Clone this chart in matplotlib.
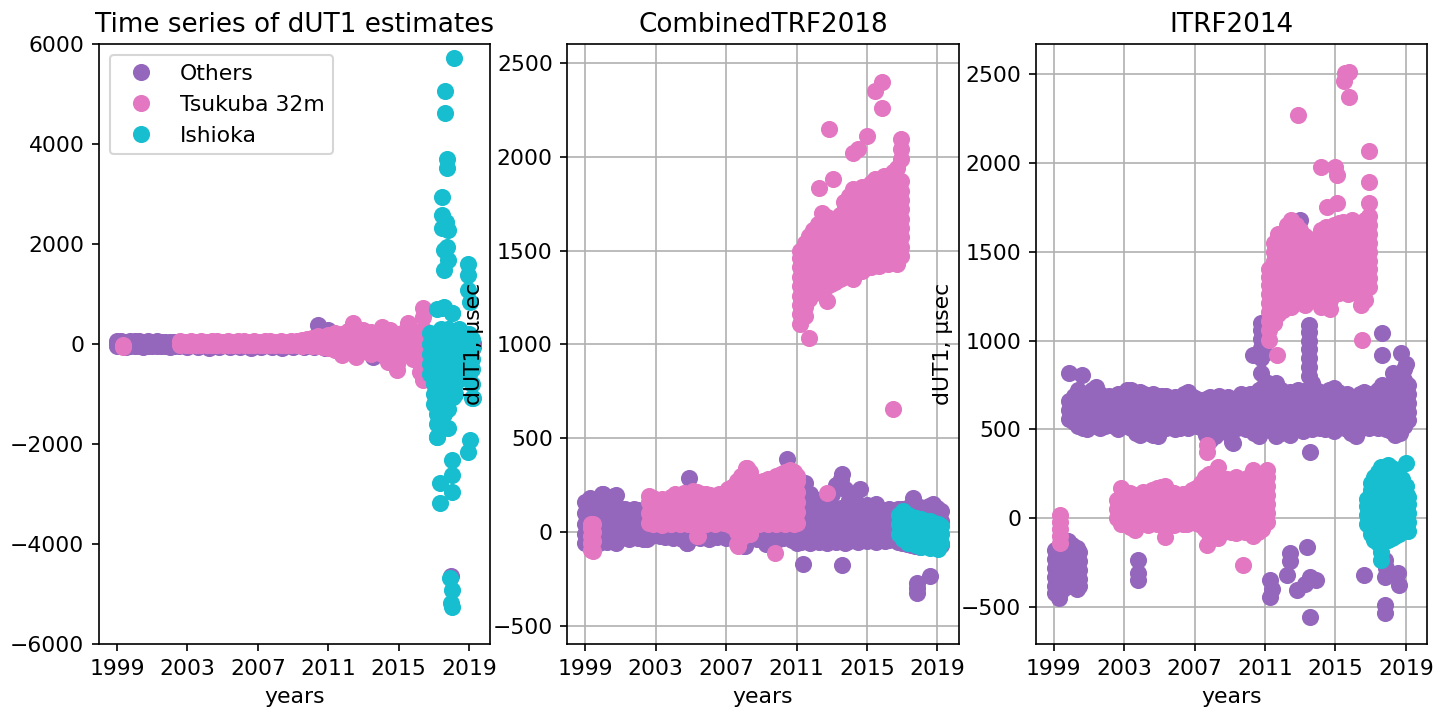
import matplotlib
matplotlib.use("Agg")
import matplotlib.pyplot as plt

# ---------------------------------------------------------------- data
# dense session groups: (epoch in years, [dUT1 values in usec])
# isolated sessions: list of (epoch, value)

# left panel: raw time series
RAW_OTHERS_COLS = [
    (1999.0, [-50, 0, 50]), (1999.25, [-40, 10, 60]), (1999.5, [-60, -10, 40]),
    (1999.75, [-45, 5, 55]), (2000.0, [-50, 0, 60]), (2000.25, [-40, 10, 50]),
    (2000.5, [-55, -5, 45]), (2000.75, [-45, 5, 55]), (2001.0, [-50, 0, 40]),
    (2001.25, [-40, 10, 50]), (2001.5, [-50, 0, 30]), (2001.75, [-45, 5, 45]),
    (2002.0, [-55, -5, 40]), (2002.25, [-40, 10, 45]), (2002.5, [-50, 0, 35]),
    (2003.0, [-70, 0]), (2003.6, [-65, -5]), (2004.2, [-75, 0]), (2004.8, [-60, 5]),
    (2005.4, [-70, -10]), (2006.0, [-65, 0]), (2006.6, [-75, -5]), (2007.2, [-60, 0]),
    (2007.8, [-70, 5]), (2008.4, [-80, -10]), (2009.0, [-65, 0]), (2009.6, [-70, -5]),
    (2010.2, [-60, 10]), (2010.8, [-75, 0]), (2011.4, [-60, 30]), (2012.0, [-70, 20]),
    (2012.6, [-60, 30]), (2013.2, [-80, 10]), (2014.0, [-70, 20]), (2014.8, [-60, 30]),
    (2015.6, [-70, 20]), (2016.4, [-60, 30]), (2017.2, [-60, 30]), (2018.0, [-70, 20]),
    (2018.8, [-60, 30]), (2019.2, [-70, 20]),
]
RAW_OTHERS_EXTRA = [(2010.4, 380), (2011.0, 280), (2013.55, -260), (2017.95, -4650)]

RAW_TSUKUBA_COLS = [
    (1999.35, [-70, -20]),
    (2002.6, [-20, 50]), (2002.9, [-30, 40]), (2003.2, [-20, 60]), (2003.5, [-25, 45]),
    (2003.8, [-15, 55]), (2004.1, [-30, 40]), (2004.4, [-20, 50]), (2004.7, [-25, 60]),
    (2005.0, [-15, 45]), (2005.3, [-30, 55]), (2005.6, [-20, 40]), (2005.9, [-25, 50]),
    (2006.2, [-15, 60]), (2006.5, [-30, 45]), (2006.8, [-20, 55]), (2007.1, [-25, 40]),
    (2007.4, [-15, 50]), (2007.7, [-30, 60]), (2008.0, [-20, 45]), (2008.3, [-25, 55]),
    (2008.6, [-15, 40]), (2008.9, [-30, 50]), (2009.2, [-20, 60]), (2009.5, [-40, 70]),
    (2009.8, [-30, 90]), (2010.1, [-50, 60, 120]), (2010.4, [-40, 80, 150]),
    (2010.7, [-60, 50, 130]), (2011.0, [-80, 0, 100, 180]), (2011.4, [-120, 0, 100, 220]),
    (2011.8, [-220, -100, 0, 100, 200]), (2012.1, [-150, -50, 50, 150, 250]),
    (2012.4, [-180, -60, 60, 180, 300, 420]), (2012.6, [-260, -120, 0, 120, 240]),
    (2013.0, [-150, -40, 80, 180, 280]), (2013.4, [-200, -80, 40, 160, 240]),
    (2013.7, [-120, 0, 120, 200]), (2014.06, [-200, -80, 40, 160, 340]),
    (2014.4, [-360, -220, -100, 20, 140, 260]), (2014.5, [-150, 0, 150, 280]),
    (2014.9, [-520, -400, -250, -100, 50, 200]), (2015.2, [-200, -60, 80, 220]),
    (2015.5, [-150, 0, 150, 280, 420]), (2015.8, [-300, -150, 0, 120, 200]),
    (2016.2, [-560, -400, -250, -100, 50, 220]), (2016.4, [-720, -600, 300, 540, 720]),
]
RAW_TSUKUBA_EXTRA = []

RAW_ISHIOKA_COLS = [
    (2016.8, [-600, -400, -200, 0, 220]),
    (2017.0, [-1200, -1000, -800, -600, -400, -200, 0, 200]),
    (2017.2, [-1860, -1600, -1400, -1200, -1000, -800, -600, -400, -200, 0, 150, 700]),
    (2017.4, [-1700, -1500, -1300, -1100, -900, -700, -500, -300, -100, 100, 300]),
    (2017.6, [-1400, -1200, -1000, -800, -600, -400, -200, 0, 200, 740]),
    (2017.8, [-1680, -1300, -1100, -900, -700, -500, -300, -100, 100, 300]),
    (2018.0, [-1060, -850, -650, -450, -250, -50, 150, 620]),
    (2018.2, [-1000, -800, -600, -400, -200, 0, 200]),
    (2018.4, [-700, -500, -300, -100, 100, 300]),
    (2018.6, [-600, -400, -200, 0, 200]),
    (2018.8, [-500, -300, -100, 100]),
    (2019.0, [-600, -400, -200, 0, 200]),
    (2019.15, [-1080, -800, -500, -300, -100, 100]),
]
RAW_ISHIOKA_EXTRA = [
    (2018.15, 5720), (2017.64, 5060), (2017.64, 4620), (2017.75, 3700), (2017.75, 3520),
    (2017.47, 2940), (2017.47, 2580), (2017.7, 2440), (2017.47, 2320), (2017.8, 2280),
    (2017.75, 1940), (2017.55, 1880), (2017.8, 1680), (2017.6, 1480), (2018.94, 1600),
    (2018.94, 1380), (2018.94, 1080), (2019.05, 840), (2017.47, 720), (2018.0, 620),
    (2017.2, -1860), (2017.35, -2780), (2017.35, -3180), (2018.0, -2320),
    (2018.0, -2620), (2018.0, -2960), (2017.9, -4680), (2018.0, -4920),
    (2017.95, -5180), (2018.0, -5260), (2019.05, -1920), (2018.94, -2160),
    (2018.1, -1060), (2019.2, -1080),
]

# middle panel: CombinedTRF2018
CTRF_OTHERS_COLS = [
    (1999.0, [-60, -10, 40, 100, 160]), (1999.25, [-70, -20, 30, 90, 180]),
    (1999.5, [-50, 0, 60, 120, 170]), (1999.75, [-60, -10, 40, 110, 150]),
    (2000.0, [-40, 10, 70, 130, 200]), (2000.25, [-55, -5, 50, 110, 160]),
    (2000.5, [-45, 15, 75, 130, 170]), (2000.75, [-60, -10, 40, 100, 195]),
    (2001.0, [-30, 20, 70, 120]), (2001.25, [-25, 25, 80, 125]),
    (2001.5, [-35, 10, 60, 110]), (2001.75, [-20, 30, 80, 120]),
    (2002.0, [-30, 15, 65, 115]), (2002.25, [-40, 0, 50, 100]),
    (2002.5, [-35, 10, 60]), (2002.75, [-20, 30]),
    (2003.0, [-10, 30]), (2003.25, [-20, 20]), (2003.5, [-25, 15]), (2003.75, [-5, 35]),
    (2004.0, [-30, 10]), (2004.25, [-15, 25]), (2004.5, [-35, 5]), (2004.75, [-60, 0]),
    (2005.0, [-20, 20]), (2005.25, [-10, 30]), (2005.5, [-30, 10]), (2005.75, [-15, 25]),
    (2006.0, [-35, 5]), (2006.25, [-20, 20]), (2006.5, [-25, 15]), (2006.75, [-10, 30]),
    (2007.0, [-30, 10]), (2007.25, [-15, 25]), (2007.5, [-35, 5]), (2007.75, [-20, 20]),
    (2008.0, [-75, -10]), (2008.25, [-30, 15]), (2008.5, [-20, 20]), (2008.75, [-35, 10]),
    (2009.0, [-25, 15]), (2009.25, [-65, 0]), (2009.5, [-30, 20]), (2009.75, [-20, 25]),
    (2010.0, [-40, 10]), (2010.25, [-30, 20]), (2010.5, [-25, 15]), (2010.75, [-45, 5]),
    (2011.0, [-60, -10, 40, 100, 160]), (2011.25, [-55, 0, 60, 120, 180]),
    (2011.5, [-50, 10, 70, 130, 260]), (2011.75, [-60, -5, 55, 115, 205]),
    (2012.0, [-45, 15, 75, 135, 175]), (2012.25, [-55, 0, 60, 120, 150]),
    (2012.5, [-50, 10, 70, 130, 170]), (2012.75, [-60, -5, 50, 110, 160]),
    (2013.0, [-45, 15, 75, 140, 200]), (2013.25, [-55, 0, 60, 120, 250]),
    (2013.5, [-40, 10, 70, 130, 280]), (2013.75, [-60, -5, 55, 115, 230]),
    (2014.0, [-50, 10, 70, 130, 170]), (2014.25, [-45, 0, 60, 120, 160]),
    (2014.5, [-55, 5, 65, 125, 150]), (2014.75, [-40, 15, 75, 135]),
    (2015.0, [-50, 0, 60, 120, 145]), (2015.25, [-45, 10, 70, 130]),
    (2015.5, [-55, -5, 55, 115, 150]), (2015.75, [-40, 15, 75, 125]),
    (2016.0, [-50, 0, 60, 110]), (2016.25, [-45, 5, 65, 120]),
    (2016.5, [-40, 10, 70, 115]), (2016.75, [-55, 0, 60, 120]),
    (2017.0, [-60, 70, 125]), (2017.25, [-65, 80, 130]), (2017.5, [-70, 75, 140]),
    (2017.75, [-75, 85, 120]), (2018.0, [-80, 70, 135]), (2018.25, [-70, 80, 125]),
    (2018.5, [-75, 90, 140]), (2018.75, [-70, 85, 150]), (2019.0, [-65, 75, 130]),
    (2019.2, [-70, 60, 110]),
]
CTRF_OTHERS_EXTRA = [
    (2004.9, 288), (2010.44, 389), (2010.6, 330), (1999.97, 200), (2000.65, 192),
    (2011.35, -170), (2013.57, -176), (2013.57, 309), (2014.6, 229), (2017.6, 181),
    (2017.84, -272), (2017.84, -300), (2017.84, -325), (2018.6, -235),
    (2008.05, -75), (2004.75, -60),
]

CTRF_TSUKUBA_COLS = [
    (1999.3, [-95, -60, -20, 20, 45]), (1999.45, [-100, -50, 0, 40]),
    (2002.6, [50, 100, 160, 190]), (2002.85, [40, 90, 140, 180]),
    (2003.1, [55, 105, 150]), (2003.35, [35, 85, 135, 175]),
    (2003.6, [50, 100, 150, 165]), (2003.85, [45, 95, 145, 185]),
    (2004.1, [55, 105, 155, 200]), (2004.35, [40, 90, 140, 190]),
    (2004.6, [50, 100, 150, 210]), (2004.85, [45, 95, 145, 195]),
    (2005.1, [55, 105, 160, 220]), (2005.35, [-20, 60, 110, 165, 215]),
    (2005.6, [50, 100, 150, 205]), (2005.85, [45, 95, 145, 200]),
    (2006.1, [55, 105, 155, 195]), (2006.35, [40, 90, 140, 185]),
    (2006.6, [60, 110, 160, 200]), (2006.85, [50, 100, 150, 210]),
    (2007.1, [45, 95, 145, 195, 230]), (2007.35, [30, 80, 130, 180, 240]),
    (2007.6, [-65, 0, 60, 110, 165, 220, 270]), (2007.85, [-30, 20, 75, 130, 185, 240, 300]),
    (2008.1, [10, 65, 120, 175, 230, 290, 340]), (2008.35, [-10, 45, 100, 155, 210, 265, 320]),
    (2008.6, [40, 95, 150, 205, 255]), (2008.85, [45, 100, 155, 210, 265]),
    (2009.1, [50, 105, 160, 215, 270]), (2009.35, [40, 95, 150, 205, 260, 285]),
    (2009.6, [55, 110, 165, 220, 275]), (2009.85, [45, 100, 155, 210, 270, 300]),
    (2010.1, [50, 105, 160, 215, 275, 310]), (2010.35, [40, 95, 150, 205, 260, 320]),
    (2010.6, [55, 110, 165, 220, 280, 330]), (2010.85, [45, 100, 155, 210, 265, 320]),
    (2011.05, [50, 105, 160, 215, 270, 300]),
    (2011.2, [1110, 1160, 1210, 1260, 1310, 1360, 1410, 1460, 1500]),
    (2011.45, [1150, 1200, 1250, 1300, 1350, 1400, 1450, 1500, 1540]),
    (2011.7, [1034, 1240, 1290, 1340, 1390, 1440, 1490, 1540, 1580]),
    (2011.95, [1270, 1320, 1370, 1420, 1470, 1520, 1570, 1610]),
    (2012.2, [1290, 1340, 1390, 1440, 1490, 1540, 1590, 1640]),
    (2012.45, [1300, 1350, 1400, 1450, 1500, 1550, 1600, 1660, 1700]),
    (2012.7, [1231, 1310, 1360, 1410, 1460, 1510, 1560, 1610, 1680]),
    (2012.95, [1320, 1370, 1420, 1470, 1520, 1570, 1620, 1660]),
    (2013.2, [1330, 1380, 1430, 1480, 1530, 1580, 1630, 1670]),
    (2013.45, [1348, 1390, 1440, 1490, 1540, 1590, 1640, 1690]),
    (2013.7, [1360, 1410, 1460, 1510, 1560, 1610, 1660, 1710, 1760]),
    (2013.95, [1370, 1420, 1470, 1520, 1570, 1620, 1670, 1720, 1790]),
    (2014.2, [1380, 1430, 1480, 1530, 1580, 1630, 1680, 1730, 1780, 1830]),
    (2014.45, [1400, 1450, 1500, 1550, 1600, 1650, 1700, 1750, 1800]),
    (2014.7, [1390, 1440, 1490, 1540, 1590, 1640, 1690, 1740, 1790, 1840]),
    (2014.95, [1420, 1470, 1520, 1570, 1620, 1670, 1720, 1770, 1820]),
    (2015.2, [1410, 1460, 1510, 1560, 1610, 1660, 1710, 1760, 1810, 1860]),
    (2015.45, [1430, 1480, 1530, 1580, 1630, 1680, 1730, 1780, 1830, 1880]),
    (2015.7, [1420, 1470, 1520, 1570, 1620, 1670, 1720, 1770, 1820, 1870]),
    (2015.95, [1440, 1490, 1540, 1590, 1640, 1690, 1740, 1790, 1840, 1900]),
    (2016.2, [1428, 1480, 1530, 1580, 1630, 1680, 1730, 1780, 1830, 1890]),
    (2016.45, [1450, 1500, 1550, 1600, 1650, 1700, 1750, 1800, 1850, 1920]),
    (2016.7, [1430, 1480, 1530, 1580, 1630, 1680, 1730, 1780, 1830, 1880, 1940]),
    (2016.95, [1470, 1520, 1570, 1620, 1670, 1720, 1770, 1820, 1870, 1990, 2040, 2095]),
]
CTRF_TSUKUBA_EXTRA = [
    (2002.8, 181), (2005.4, -21), (2007.65, -75), (2009.76, -112), (2008.2, 341),
    (2012.7, 208), (2016.47, 656), (2012.83, 2148), (2012.3, 1834), (2013.05, 1881),
    (2014.2, 2020), (2014.5, 2041), (2015.0, 2110), (2015.45, 2350), (2015.85, 2399),
    (2015.85, 2260), (2014.2, 1348),
]

CTRF_ISHIOKA_COLS = [
    (2016.8, [-10, 40, 90]), (2017.05, [-40, 10, 60, 112]), (2017.3, [-60, -10, 40, 90]),
    (2017.55, [-50, 0, 50, 80]), (2017.8, [-70, -20, 30, 75]), (2018.05, [-80, -30, 20, 70]),
    (2018.3, [-75, -25, 25, 60]), (2018.55, [-85, -35, 15, 60]), (2018.8, [-70, -20, 30, 50]),
    (2019.05, [-90, -40, 10, 40]), (2019.2, [-60, -10, 30]),
]
CTRF_ISHIOKA_EXTRA = []

# right panel: ITRF2014
ITRF_OTHERS_COLS = [
    (1999.05, [-180, -230, -280, -330, -380, -420]), (1999.3, [-220, -270, -320, -370, -420, -450]),
    (1999.55, [-150, -200, -250, -300, -350, -400]), (1999.8, [-130, -180, -230, -280, -330, -380]),
    (2000.05, [-150, -200, -250, -300, -350]), (2000.3, [-170, -220, -270, -320, -370, -400]),
    (2000.45, [-190, -240, -290, -340, -380]),
    (1999.9, [560, 610, 660]), (2000.15, [540, 590, 640, 690]),
    (2000.4, [520, 570, 620, 670, 720]), (2000.65, [510, 560, 610, 660, 700]),
    (2000.9, [500, 550, 600, 650, 700]), (2001.15, [520, 570, 620, 670, 720]),
    (2001.4, [530, 580, 630, 680, 738]), (2001.65, [510, 560, 610, 660, 700]),
    (2001.9, [520, 570, 620, 670]), (2002.15, [540, 590, 640, 690]),
    (2002.4, [520, 570, 620, 670]), (2002.65, [500, 550, 600, 650, 700]),
    (2002.9, [530, 580, 630, 680]), (2003.15, [520, 570, 620, 670, 720]),
    (2003.4, [510, 560, 610, 660, 720]), (2003.65, [480, 530, 580, 630, 680]),
    (2003.9, [467, 520, 570, 620, 670, 710]), (2004.15, [500, 550, 600, 650, 700]),
    (2004.4, [480, 530, 580, 630, 680]), (2004.65, [470, 520, 570, 620, 670, 700]),
    (2004.9, [460, 510, 560, 610, 660, 690]), (2005.15, [500, 550, 600, 650, 690]),
    (2005.4, [510, 560, 610, 660, 690]), (2005.65, [520, 570, 620, 670]),
    (2005.9, [500, 550, 600, 650, 680]), (2006.15, [510, 560, 610, 660]),
    (2006.4, [520, 570, 620, 670, 700]), (2006.65, [510, 560, 610, 660, 710]),
    (2006.9, [530, 580, 630, 680]), (2007.15, [520, 570, 620, 670]),
    (2007.4, [510, 560, 610, 660]), (2007.65, [470, 520, 570, 620, 670]),
    (2007.9, [440, 490, 540, 590, 640, 680]), (2008.15, [460, 510, 560, 610, 660]),
    (2008.4, [500, 550, 600, 650, 690]), (2008.65, [520, 570, 620, 670]),
    (2008.9, [480, 530, 580, 630, 680]), (2009.15, [430, 500, 550, 600, 650]),
    (2009.4, [510, 560, 610, 660]), (2009.65, [520, 570, 620, 670, 700]),
    (2009.9, [500, 550, 600, 650, 690]), (2010.15, [510, 560, 610, 660, 700]),
    (2010.4, [480, 530, 580, 630, 680]), (2010.65, [460, 520, 570, 620, 670, 720]),
    (2010.9, [500, 550, 600, 650, 700, 740]), (2011.15, [520, 570, 620, 670, 720, 760]),
    (2011.4, [490, 540, 590, 640, 690, 740]), (2011.65, [460, 510, 560, 610, 660, 710, 760]),
    (2011.9, [480, 530, 580, 630, 680, 720]), (2012.15, [500, 550, 600, 650, 700]),
    (2012.4, [470, 520, 570, 620, 670, 710]), (2012.65, [500, 550, 600, 650, 700]),
    (2012.9, [520, 570, 620, 670, 720]), (2013.15, [490, 540, 590, 640, 690]),
    (2013.4, [510, 560, 610, 660, 720]), (2013.65, [500, 550, 600, 650, 700, 760]),
    (2013.9, [520, 570, 620, 670, 720]), (2014.15, [510, 560, 610, 660, 710]),
    (2014.4, [500, 550, 600, 650, 700]), (2014.65, [520, 570, 620, 670, 720]),
    (2014.9, [490, 540, 590, 640, 690, 730]), (2015.15, [510, 560, 610, 660, 710]),
    (2015.4, [530, 580, 630, 680]), (2015.65, [500, 550, 600, 650, 700]),
    (2015.9, [480, 530, 580, 630, 680]), (2016.15, [460, 510, 560, 610, 660]),
    (2016.4, [500, 550, 600, 650, 700]), (2016.65, [520, 570, 620, 670, 710]),
    (2016.9, [510, 560, 610, 660, 700]), (2017.15, [530, 580, 630, 680]),
    (2017.4, [510, 560, 610, 660, 720]), (2017.65, [520, 570, 620, 670, 720, 750]),
    (2017.9, [500, 550, 600, 650, 700]), (2018.15, [490, 540, 590, 640, 690, 730]),
    (2018.4, [470, 520, 570, 620, 670, 720]), (2018.65, [480, 530, 580, 630, 680, 740]),
    (2018.9, [520, 570, 620, 670, 720, 780, 840]), (2019.1, [550, 600, 650, 700, 750]),
    (2010.75, [816, 900, 960, 1010, 1060, 1100]), (2013.5, [800, 850, 900, 950, 1000, 1050, 1090]),
]
ITRF_OTHERS_EXTRA = [
    (1999.9, 816), (2000.6, 805), (2003.77, -236), (2003.77, -310), (2003.77, -349),
    (2010.3, 918), (2011.0, 930), (2013.55, 372), (2009.2, 422), (2013.0, 1678),
    (2017.65, 1040), (2017.65, 918), (2018.7, 930), (2019.0, 870), (2018.3, 816),
    (2011.3, -349), (2011.3, -444), (2011.4, -400), (2012.25, -321), (2012.4, -197),
    (2012.4, -240), (2012.8, -405), (2013.4, -163), (2013.3, -370), (2013.55, -332),
    (2013.9, -349), (2013.55, -557), (2016.6, -321), (2017.8, -236), (2017.8, -332),
    (2018.55, -310), (2018.6, -377), (2017.8, -490), (2017.8, -535), (2017.9, -280),
]

ITRF_TSUKUBA_COLS = [
    (1999.35, [20, -20, -60, -100, -140]),
    (2002.6, [0, 50, 100]), (2002.85, [-30, 20, 70, 120, 169]),
    (2003.1, [-20, 30, 80, 130]), (2003.35, [-50, 0, 50, 100, 140]),
    (2003.6, [-68, -15, 35, 85, 130]), (2003.85, [-30, 20, 70, 120]),
    (2004.1, [-20, 30, 80, 130, 150]), (2004.35, [-40, 10, 60, 110, 140]),
    (2004.6, [-25, 25, 75, 125, 160]), (2004.85, [-35, 15, 65, 115, 170]),
    (2005.1, [-20, 30, 80, 130, 175]), (2005.35, [-107, -30, 20, 70, 120, 180]),
    (2005.6, [-25, 25, 75, 125, 150]), (2005.85, [-40, 10, 60, 110, 140]),
    (2006.1, [-20, 30, 80, 130]), (2006.35, [-35, 15, 65, 115, 135]),
    (2006.6, [-30, 20, 70, 120]), (2006.85, [-15, 35, 85, 135, 160]),
    (2007.1, [-25, 25, 75, 125, 170]), (2007.35, [-40, 10, 60, 110, 160, 200]),
    (2007.6, [-60, -10, 40, 90, 140, 190, 230]), (2007.85, [-90, -40, 10, 60, 110, 160, 210, 250]),
    (2008.1, [-70, -20, 30, 80, 130, 180, 230]), (2008.35, [-113, -50, 0, 50, 100, 150, 200, 287]),
    (2008.6, [-80, -30, 20, 70, 120, 170, 210]), (2008.85, [-60, -10, 40, 90, 140, 190, 220]),
    (2009.1, [-75, -25, 25, 75, 125, 175, 215]), (2009.35, [-85, -35, 15, 65, 115, 165, 231]),
    (2009.6, [-70, -20, 30, 80, 130, 180, 210]), (2009.85, [-80, -30, 20, 70, 120, 170, 220]),
    (2010.1, [-65, -15, 35, 85, 135, 185, 230]), (2010.35, [-103, -40, 10, 60, 110, 160, 210, 270]),
    (2010.6, [-75, -25, 25, 75, 125, 175, 225]), (2010.85, [-60, -10, 40, 90, 140, 190, 240]),
    (2011.1, [-20, 30, 80, 130, 180, 230, 270]),
    (2011.25, [1002, 1060, 1110, 1160, 1210, 1260, 1310, 1360, 1400]),
    (2011.5, [1100, 1150, 1200, 1250, 1300, 1350, 1400, 1450, 1500, 1550]),
    (2011.75, [1150, 1200, 1250, 1300, 1350, 1400, 1450, 1500, 1550, 1600]),
    (2012.0, [1170, 1220, 1270, 1320, 1370, 1420, 1470, 1520, 1570]),
    (2012.25, [1200, 1250, 1300, 1350, 1400, 1450, 1500, 1550, 1600, 1650]),
    (2012.5, [1188, 1240, 1290, 1340, 1390, 1440, 1490, 1540, 1590, 1640, 1678]),
    (2012.75, [1210, 1260, 1310, 1360, 1410, 1460, 1510, 1560, 1610, 1650]),
    (2013.0, [1230, 1280, 1330, 1380, 1430, 1480, 1530, 1580, 1620]),
    (2013.25, [1200, 1250, 1300, 1350, 1400, 1450, 1500, 1550, 1590]),
    (2013.5, [1240, 1290, 1340, 1390, 1440, 1490, 1540, 1570]),
    (2013.7, [1260, 1310, 1360, 1410, 1460, 1510, 1550]),
    (2013.95, [1300, 1350, 1400, 1450, 1500]),
    (2014.2, [1188, 1240, 1290, 1340, 1390, 1440, 1490, 1540, 1590, 1620]),
    (2014.45, [1200, 1250, 1300, 1350, 1400, 1450, 1500, 1550, 1600, 1640]),
    (2014.7, [1180, 1230, 1280, 1330, 1380, 1430, 1480, 1530, 1580, 1630]),
    (2014.95, [1260, 1310, 1360, 1410, 1460, 1510, 1560, 1610, 1650]),
    (2015.2, [1270, 1320, 1370, 1420, 1470, 1520, 1570, 1620, 1660]),
    (2015.45, [1280, 1330, 1380, 1430, 1480, 1530, 1580, 1630, 1670]),
    (2015.7, [1260, 1310, 1360, 1410, 1460, 1510, 1560, 1610, 1650]),
    (2015.95, [1290, 1340, 1390, 1440, 1490, 1540, 1590, 1640, 1680]),
    (2016.2, [1270, 1320, 1370, 1420, 1470, 1520, 1570, 1620, 1660]),
    (2016.45, [1200, 1250, 1300, 1350, 1400, 1450, 1500, 1550, 1600, 1650]),
    (2016.7, [1230, 1283, 1330, 1380, 1430, 1480, 1530, 1580, 1630, 1680]),
    (2016.9, [1300, 1350, 1400, 1450, 1500, 1550, 1600, 1650, 1700]),
]
ITRF_TSUKUBA_EXTRA = [
    (2007.7, 411), (2007.7, 372), (2007.7, -152), (2009.75, -265),
    (2012.87, 2269), (2015.55, 2505), (2015.8, 2511), (2015.5, 2460), (2015.8, 2370),
    (2014.2, 1976), (2015.0, 1976), (2015.1, 1931), (2016.9, 2066), (2016.9, 1892),
    (2016.9, 1773), (2014.5, 1751), (2015.1, 1773), (2016.5, 1002), (2011.7, 918),
]

ITRF_ISHIOKA_COLS = [
    (2016.8, [-30, 20, 70, 110]),
    (2017.0, [-90, -40, 10, 60, 110, 160, 200]),
    (2017.2, [-120, -70, -20, 30, 80, 130, 180, 230]),
    (2017.4, [-140, -90, -40, 10, 60, 110, 160, 210, 260]),
    (2017.6, [-236, -190, -140, -90, -40, 10, 60, 110, 160, 210, 260, 290]),
    (2017.8, [-130, -80, -30, 20, 70, 120, 170, 220, 270]),
    (2018.0, [-120, -70, -20, 30, 80, 130, 180, 230, 300]),
    (2018.2, [-110, -60, -10, 40, 90, 140, 190, 240, 280]),
    (2018.4, [-100, -50, 0, 50, 100, 150, 200, 250]),
    (2018.6, [-90, -40, 10, 60, 110, 160, 210, 240]),
    (2018.8, [-70, -20, 30, 80, 130, 180, 220]),
    (2019.0, [-60, -10, 40, 90, 140, 180, 310]),
    (2019.15, [-70, -20, 30, 80, 120]),
]
ITRF_ISHIOKA_EXTRA = []

LABELS = ["Others", "Tsukuba 32m", "Ishioka"]
COLORS = ["#9467bd", "#e377c2", "#17becf"]
TITLES = ["Time series of dUT1 estimates", "CombinedTRF2018", "ITRF2014"]
YEAR_TICKS = [1999, 2003, 2007, 2011, 2015, 2019]
YLIMS = [(-6000, 6000), (-597, 2601), (-708, 2669)]

PANELS = [
    [(RAW_OTHERS_COLS, RAW_OTHERS_EXTRA), (RAW_TSUKUBA_COLS, RAW_TSUKUBA_EXTRA),
     (RAW_ISHIOKA_COLS, RAW_ISHIOKA_EXTRA)],
    [(CTRF_OTHERS_COLS, CTRF_OTHERS_EXTRA), (CTRF_TSUKUBA_COLS, CTRF_TSUKUBA_EXTRA),
     (CTRF_ISHIOKA_COLS, CTRF_ISHIOKA_EXTRA)],
    [(ITRF_OTHERS_COLS, ITRF_OTHERS_EXTRA), (ITRF_TSUKUBA_COLS, ITRF_TSUKUBA_EXTRA),
     (ITRF_ISHIOKA_COLS, ITRF_ISHIOKA_EXTRA)],
]


def flatten(cols, extra):
    t, v = [], []
    for epoch, values in cols:
        t += [epoch] * len(values)
        v += list(values)
    for epoch, value in extra:
        t.append(epoch)
        v.append(value)
    return t, v


def main():
    dpi = 150
    plt.rcParams["font.size"] = 10.5
    fig, axes = plt.subplots(1, 3, figsize=(1437 / dpi, 710 / dpi), dpi=dpi)
    fig.subplots_adjust(left=0.0689, right=0.993, bottom=0.093, top=0.938, wspace=0.197)

    for i, ax in enumerate(axes):
        for (cols, extra), label, color in zip(PANELS[i], LABELS, COLORS):
            t, v = flatten(cols, extra)
            ax.plot(t, v, "o", color=color, markersize=7.2, label=label)
        ax.set_xlim(1997.98, 2020.2)
        ax.set_ylim(*YLIMS[i])
        ax.set_xticks(YEAR_TICKS)
        ax.set_xlabel("years")
        ax.set_title(TITLES[i])
        if i > 0:
            ax.grid(True)
            ax.set_ylabel("dUT1, µsec")
        else:
            ax.set_yticks([-6000, -4000, -2000, 0, 2000, 4000, 6000])
            ax.legend(loc="upper left")

    fig.savefig("out.png", dpi=dpi)
    plt.close(fig)


if __name__ == "__main__":
    main()
